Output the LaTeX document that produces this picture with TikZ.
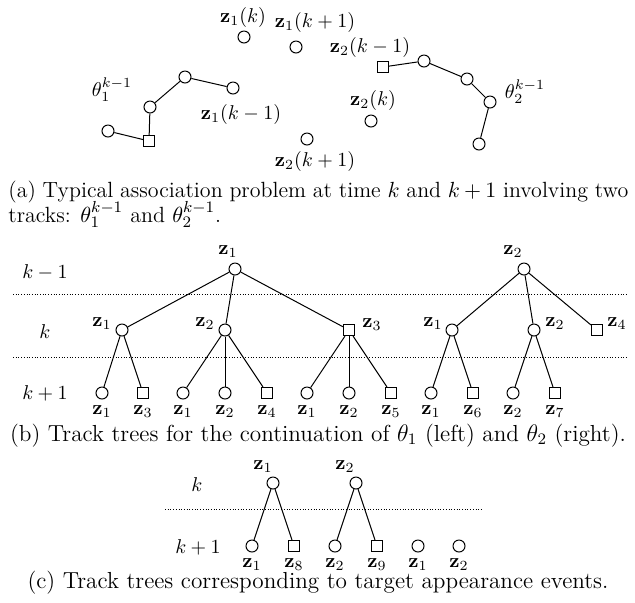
\documentclass[tikz,border=0pt]{standalone}
\begin{document}
\begin{tikzpicture}[x=0.5pt,y=-0.5pt]
\tikzset{
 pt/.style={circle,draw,minimum size=6pt,inner sep=0pt,line width=0.5pt},
 sq/.style={rectangle,draw,minimum size=5.6pt,inner sep=0pt,line width=0.5pt},
 lbl/.style={inner sep=0pt},
 link/.style={line width=0.5pt},
 sepline/.style={line width=0.45pt,dash pattern=on 0.45pt off 0.9pt},
 captxt/.style={inner sep=0pt,font=\fontsize{11.6}{13.5}\selectfont},
 capatxt/.style={inner sep=0pt,font=\fontsize{11}{13}\selectfont},
}
\useasboundingbox (0,0) rectangle (635,602);
% ---------------- (a)
\node[pt] (a1) at (244,37) {};
\node[lbl] (la1) at (243,17) {$\mathbf{z}_1(k)$};
\node[pt] (a2) at (296,47) {};
\node[lbl] (la2) at (315,22) {$\mathbf{z}_1(k+1)$};
\node[pt] (a3) at (371,121) {};
\node[lbl] (la3) at (373,100) {$\mathbf{z}_2(k)$};
\node[pt] (a4) at (307,139) {};
\node[lbl] (la4) at (315,161) {$\mathbf{z}_2(k+1)$};
% track 2
\node[sq] (t2s) at (383,67) {};
\node[pt] (t2b) at (424,61) {};
\node[pt] (t2c) at (467,79) {};
\node[pt] (t2d) at (490,102) {};
\node[pt] (t2e) at (479,144) {};
\node[lbl] (lt2s) at (370,47) {$\mathbf{z}_2(k-1)$};
\node[lbl] (th2) at (525,92) {$\theta_2^{k-1}$};
\draw[link] (t2s) -- (t2b) -- (t2c) -- (t2d) -- (t2e);
% track 1
\node[pt] (t1a) at (108,131) {};
\node[sq] (t1s) at (149,141) {};
\node[pt] (t1b) at (150,107) {};
\node[pt] (t1c) at (185,77) {};
\node[pt] (t1d) at (233,88) {};
\node[lbl] (th1) at (112,90) {$\theta_1^{k-1}$};
\node[lbl] (lt1d) at (241,114) {$\mathbf{z}_1(k-1)$};
\draw[link] (t1a) -- (t1s) -- (t1b) -- (t1c) -- (t1d);
\node[capatxt,anchor=base west] (capa1) at (8,197) {\makebox[310pt][s]{(a) Typical association problem at time $k$ and $k+1$ involving two}};
\node[capatxt,anchor=base west] (capa2) at (8,222) {tracks: $\theta_1^{k-1}$ and $\theta_2^{k-1}$.};
% ---------------- (b)
\coordinate (d1l) at (13,294); \coordinate (d1r) at (627,294);
\coordinate (d2l) at (13,357); \coordinate (d2r) at (627,357);
\draw[sepline] (d1l) -- (d1r);
\draw[sepline] (d2l) -- (d2r);
\node[lbl] (tb1) at (45,272) {$k-1$};
\node[lbl] (tb2) at (45,332) {$k$};
\node[lbl] (tb3) at (45,393) {$k+1$};
% left tree
\node[pt] (r1) at (235,269) {};
\node[lbl] (lr1) at (228,252) {$\mathbf{z}_1$};
\node[pt] (b1) at (122,330) {};
\node[lbl] (lb1) at (102,324) {$\mathbf{z}_1$};
\node[pt] (b2) at (225,330) {};
\node[lbl] (lb2) at (205,324) {$\mathbf{z}_2$};
\node[sq] (b3) at (349,330) {};
\node[lbl] (lb3) at (372,325) {$\mathbf{z}_3$};
\node[pt] (l1) at (102,393) {};
\node[sq] (l2) at (143,393) {};
\node[pt] (l3) at (183,393) {};
\node[pt] (l4) at (225,393) {};
\node[sq] (l5) at (267,393) {};
\node[pt] (l6) at (307,393) {};
\node[pt] (l7) at (349,393) {};
\node[sq] (l8) at (391,393) {};
\node[lbl] (ll1) at (102,412) {$\mathbf{z}_1$};
\node[lbl] (ll2) at (143,412) {$\mathbf{z}_3$};
\node[lbl] (ll3) at (183,412) {$\mathbf{z}_1$};
\node[lbl] (ll4) at (225,412) {$\mathbf{z}_2$};
\node[lbl] (ll5) at (267,412) {$\mathbf{z}_4$};
\node[lbl] (ll6) at (307,412) {$\mathbf{z}_1$};
\node[lbl] (ll7) at (349,412) {$\mathbf{z}_2$};
\node[lbl] (ll8) at (391,412) {$\mathbf{z}_5$};
\draw[link] (r1) -- (b1);
\draw[link] (r1) -- (b2);
\draw[link] (r1) -- (b3);
\draw[link] (b1) -- (l1);
\draw[link] (b1) -- (l2);
\draw[link] (b2) -- (l3);
\draw[link] (b2) -- (l4);
\draw[link] (b2) -- (l5);
\draw[link] (b3) -- (l6);
\draw[link] (b3) -- (l7);
\draw[link] (b3) -- (l8);
% right tree
\node[pt] (r2) at (524,269) {};
\node[lbl] (lr2) at (513,252) {$\mathbf{z}_2$};
\node[pt] (c1) at (452,330) {};
\node[lbl] (lc1) at (433,324) {$\mathbf{z}_1$};
\node[pt] (c2) at (534,330) {};
\node[lbl] (lc2) at (555,324) {$\mathbf{z}_2$};
\node[sq] (c3) at (597,330) {};
\node[lbl] (lc3) at (617,324) {$\mathbf{z}_4$};
\node[pt] (m1) at (431,393) {};
\node[sq] (m2) at (473,393) {};
\node[pt] (m3) at (513,393) {};
\node[sq] (m4) at (555,393) {};
\node[lbl] (lm1) at (431,412) {$\mathbf{z}_1$};
\node[lbl] (lm2) at (473,412) {$\mathbf{z}_6$};
\node[lbl] (lm3) at (513,412) {$\mathbf{z}_2$};
\node[lbl] (lm4) at (555,412) {$\mathbf{z}_7$};
\draw[link] (r2) -- (c1);
\draw[link] (r2) -- (c2);
\draw[link] (r2) -- (c3);
\draw[link] (c1) -- (m1);
\draw[link] (c1) -- (m2);
\draw[link] (c2) -- (m3);
\draw[link] (c2) -- (m4);
\node[captxt,anchor=base] (capb) at (318,441) {(b) Track trees for the continuation of $\theta_1$ (left) and $\theta_2$ (right).};
% ---------------- (c)
\coordinate (d3l) at (165,509); \coordinate (d3r) at (483,509);
\draw[sepline] (d3l) -- (d3r);
\node[lbl] (tc1) at (197,485) {$k$};
\node[lbl] (tc2) at (198,547) {$k+1$};
\node[pt] (s1) at (273,483) {};
\node[lbl] (ls1) at (263,467) {$\mathbf{z}_1$};
\node[pt] (s2) at (356,483) {};
\node[lbl] (ls2) at (345,467) {$\mathbf{z}_2$};
\node[pt] (n1) at (252,546) {};
\node[sq] (n2) at (294,546) {};
\node[pt] (n3) at (335,546) {};
\node[sq] (n4) at (377,546) {};
\node[pt] (n5) at (418,546) {};
\node[pt] (n6) at (459,546) {};
\node[lbl] (ln1) at (252,565) {$\mathbf{z}_1$};
\node[lbl] (ln2) at (294,565) {$\mathbf{z}_8$};
\node[lbl] (ln3) at (335,565) {$\mathbf{z}_2$};
\node[lbl] (ln4) at (377,565) {$\mathbf{z}_9$};
\node[lbl] (ln5) at (418,565) {$\mathbf{z}_1$};
\node[lbl] (ln6) at (459,565) {$\mathbf{z}_2$};
\draw[link] (s1) -- (n1);
\draw[link] (s1) -- (n2);
\draw[link] (s2) -- (n3);
\draw[link] (s2) -- (n4);
\node[captxt,anchor=base] (capc) at (318,588) {(c) Track trees corresponding to target appearance events.};
\end{tikzpicture}
\end{document}
